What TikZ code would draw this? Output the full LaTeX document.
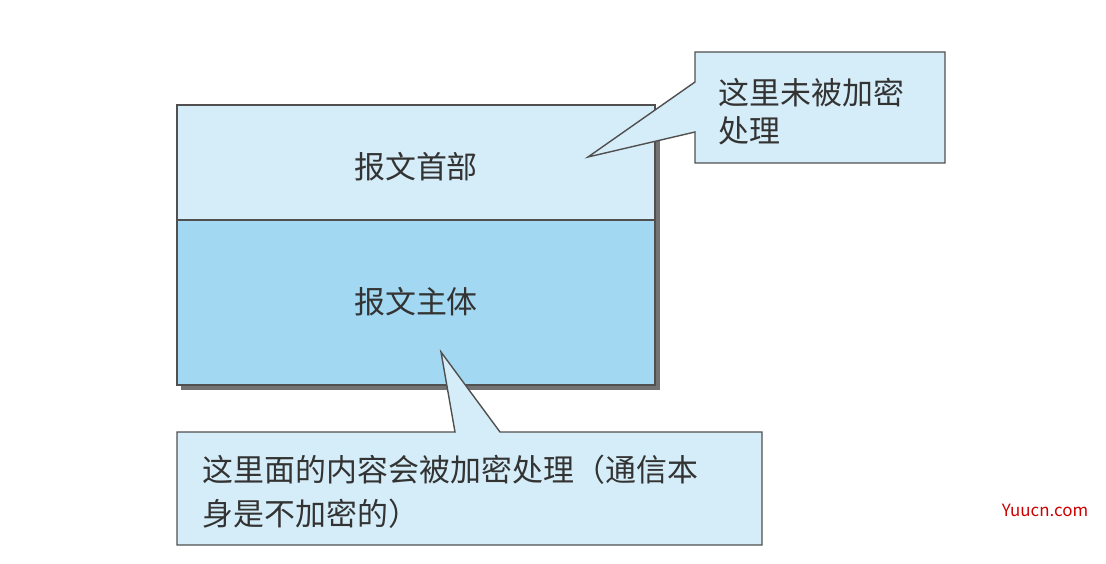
\documentclass[tikz,border=0pt]{standalone}
\usepackage{fontspec}
\setmainfont{Noto Sans CJK SC}
\usetikzlibrary{positioning}
\definecolor{hdrblue}{HTML}{D5EDF8}
\definecolor{bodyblue}{HTML}{A2D8F2}
\definecolor{edgegrey}{HTML}{505050}
\tikzset{
  part/.style={draw=edgegrey, line width=1pt, fill=#1},
  shadow/.style={fill=edgegrey!80},
  label/.style={font=\fontsize{22}{27}\selectfont, text=black!80},
  note/.style={label, align=left, anchor=north west}
}
\begin{document}
\begin{tikzpicture}[x=0.025cm, y=-0.025cm]
    \useasboundingbox (0,0) rectangle (1106,564);

    % Message box with shadow
    \fill[shadow] (181,109) rectangle (660,390);
    \draw[part=hdrblue] (177,105) rectangle (655,220);
    \draw[part=bodyblue] (177,220) rectangle (655,385);
    \node[label] (header) at (416,167) {报文首部};
    \node[label] (body) at (416,302) {报文主体};

    % Callouts
    \coordinate (tipA) at (588,157);
    \coordinate (tipB) at (441,352);
    \draw[part=hdrblue] (695,52) -- (945,52) -- (945,163) -- (695,163) -- (695,132)
        -- (tipA) -- (695,82) -- cycle;
    \draw[part=hdrblue] (177,432) -- (455,432) -- (tipB) -- (500,432) -- (762,432)
        -- (762,545) -- (177,545) -- cycle;
    \node[note] (note1) at (714,73) {这里未被加密\\处理};
    \node[note] (note2) at (198,450) {这里面的内容会被加密处理（通信本\\[4pt]身是不加密的）};

    \node[text=red!80!black, font=\fontsize{12}{14}\selectfont\rmfamily] (mark) at (1045,510) {Yuucn.com};
\end{tikzpicture}
\end{document}
